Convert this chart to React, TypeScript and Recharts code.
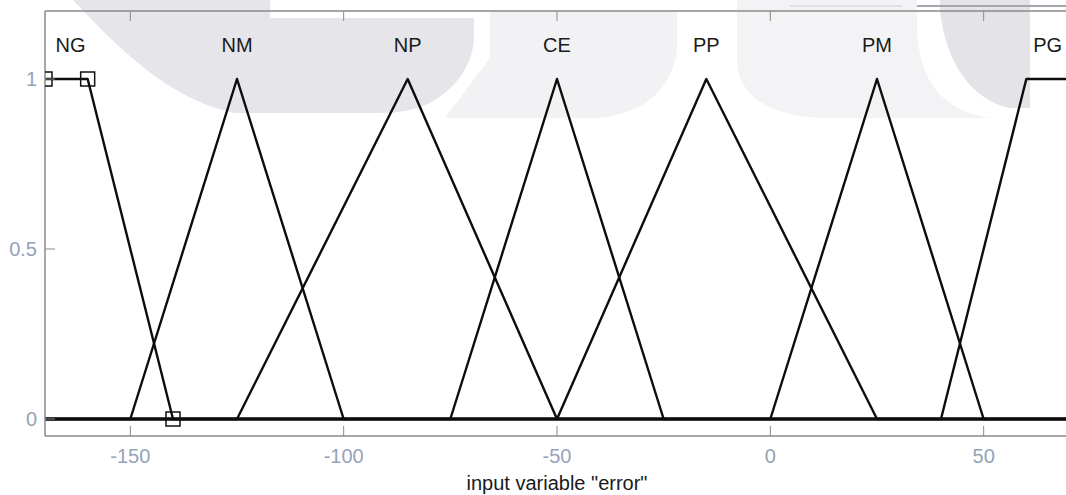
import { LineChart, Line, XAxis, YAxis, ReferenceDot } from "recharts";

// ---- data ----
const X_DOMAIN: [number, number] = [-170, 70];
const Y_DOMAIN: [number, number] = [-0.05, 1.2];
const X_TICKS = [-150, -100, -50, 0, 50];
const Y_TICKS = [0, 0.5, 1];

const ngPoints = [
  { x: -170, y: 1 },
  { x: -160, y: 1 },
  { x: -140, y: 0 },
  { x: 70, y: 0 },
];
const nmPoints = [
  { x: -170, y: 0 },
  { x: -150, y: 0 },
  { x: -125, y: 1 },
  { x: -100, y: 0 },
  { x: 70, y: 0 },
];
const npPoints = [
  { x: -170, y: 0 },
  { x: -125, y: 0 },
  { x: -85, y: 1 },
  { x: -50, y: 0 },
  { x: 70, y: 0 },
];
const cePoints = [
  { x: -170, y: 0 },
  { x: -75, y: 0 },
  { x: -50, y: 1 },
  { x: -25, y: 0 },
  { x: 70, y: 0 },
];
const ppPoints = [
  { x: -170, y: 0 },
  { x: -50, y: 0 },
  { x: -15, y: 1 },
  { x: 25, y: 0 },
  { x: 70, y: 0 },
];
const pmPoints = [
  { x: -170, y: 0 },
  { x: 0, y: 0 },
  { x: 25, y: 1 },
  { x: 50, y: 0 },
  { x: 70, y: 0 },
];
const pgPoints = [
  { x: -170, y: 0 },
  { x: 40, y: 0 },
  { x: 60, y: 1 },
  { x: 70, y: 1 },
];

const mfSeries = [ngPoints, nmPoints, npPoints, cePoints, ppPoints, pmPoints, pgPoints];
const mfNames = ["NG", "NM", "NP", "CE", "PP", "PM", "PG"];
const mfLabelX = [-164, -125, -85, -50, -15, 25, 65];
const MF_LABEL_Y = 1.1;

const FONT = "'Liberation Sans', Arial, sans-serif";
const TICK_COLOR = "#95a3b8";
const AXIS_COLOR = "#8a8a8a";

// bottom axis: inward tick + label below
const BottomTick = (props: any) => {
  const { x, y, payload } = props;
  return (
    <g>
      <line x1={x} y1={y} x2={x} y2={y - 10} stroke={AXIS_COLOR} strokeWidth={1} />
      <text x={x} y={y + 27} textAnchor="middle" fill={TICK_COLOR} fontSize={20} fontFamily={FONT}>
        {payload.value}
      </text>
    </g>
  );
};

const TopTick = (props: any) => {
  const { x, y } = props;
  return <line x1={x} y1={y} x2={x} y2={y + 10} stroke={AXIS_COLOR} strokeWidth={1} />;
};

const LeftTick = (props: any) => {
  const { x, y, payload } = props;
  return (
    <g>
      <line x1={x} y1={y} x2={x + 10} y2={y} stroke={AXIS_COLOR} strokeWidth={1} />
      <text x={x - 8} y={y + 7} textAnchor="end" fill={TICK_COLOR} fontSize={20} fontFamily={FONT}>
        {payload.value}
      </text>
    </g>
  );
};

// open squares on the selected (NG) function's parameters
const SquareDot = (props: any) => {
  const { cx, cy, index } = props;
  if (index > 2) return <g key={`sq-${index}`} />;
  return (
    <rect
      key={`sq-${index}`}
      x={cx - 7}
      y={cy - 7}
      width={14}
      height={14}
      fill="none"
      stroke="#111"
      strokeWidth={1.5}
    />
  );
};

// faint watermark behind the plot
function Watermark() {
  return (
    <svg width={1066} height={495} style={{ position: "absolute", left: 0, top: 0 }}>
      <path
        d="M 490 11 L 677 11 L 677 50 C 672 90 645 112 600 118 L 445 118 L 490 58 Z"
        fill="#f2f2f5"
      />
      <path
        d="M 73 0 L 270 0 L 270 18 L 474 18 L 474 40 Q 470 80 430 103 Q 410 113 380 113 L 235 113 C 170 100 120 50 73 0 Z"
        fill="#e5e5ea"
      />
      <path
        d="M 737 0 L 917 0 L 917 30 C 920 80 940 110 990 118 L 820 118 C 770 116 737 95 737 60 Z"
        fill="#f3f3f6"
      />
      <path d="M 940 0 L 1030 0 L 1030 108 L 1010 108 C 970 100 945 60 940 10 Z" fill="#e3e3e8" />
      <line x1={790} y1={6} x2={902} y2={6} stroke="#e0e0e3" strokeWidth={2} />
      <line x1={917} y1={6} x2={1066} y2={6} stroke="#a4a7ae" strokeWidth={2} />
    </svg>
  );
}

export default function App() {
  return (
    <div
      style={{
        position: "absolute",
        left: 0,
        top: 0,
        width: 1066,
        height: 495,
        overflow: "hidden",
        background: "#fff",
      }}
    >
      <Watermark />
      <div style={{ position: "absolute", left: 0, top: 0 }}>
        <LineChart width={1080} height={495} margin={{ top: 1, right: 11, bottom: 19, left: 5 }}>
          <XAxis
            xAxisId="top"
            orientation="top"
            type="number"
            dataKey="x"
            domain={X_DOMAIN}
            ticks={X_TICKS}
            height={10}
            allowDataOverflow
            axisLine={{ stroke: AXIS_COLOR, strokeWidth: 1.5 }}
            tickLine={false}
            tickSize={0}
            tickMargin={0}
            tick={<TopTick />}
          />
          <XAxis
            type="number"
            dataKey="x"
            domain={X_DOMAIN}
            ticks={X_TICKS}
            height={40}
            allowDataOverflow
            axisLine={{ stroke: AXIS_COLOR, strokeWidth: 1.5 }}
            tickLine={false}
            tickSize={0}
            tickMargin={0}
            tick={<BottomTick />}
            label={{
              value: 'input variable "error"',
              position: "insideBottom",
              offset: -14,
              fill: "#1a1a1a",
              fontSize: 20,
              fontFamily: FONT,
            }}
          />
          <YAxis
            type="number"
            domain={Y_DOMAIN}
            ticks={Y_TICKS}
            width={40}
            allowDataOverflow
            axisLine={{ stroke: AXIS_COLOR, strokeWidth: 1.5 }}
            tickLine={false}
            tickSize={0}
            tickMargin={0}
            tick={<LeftTick />}
          />
          {mfSeries.map((pts, i) => (
            <Line
              key={mfNames[i]}
              data={pts}
              dataKey="y"
              type="linear"
              stroke="#0d0d0d"
              strokeWidth={2.4}
              strokeLinejoin="round"
              dot={i === 0 ? SquareDot : false}
              activeDot={false}
              isAnimationActive={false}
            />
          ))}
          {mfNames.map((name, i) => (
            <ReferenceDot
              key={`lbl-${name}`}
              x={mfLabelX[i]}
              y={MF_LABEL_Y}
              r={0}
              fill="none"
              stroke="none"
              label={{
                value: name,
                position: "center",
                fill: "#1a1a1a",
                fontSize: 20,
                fontFamily: FONT,
              }}
            />
          ))}
        </LineChart>
      </div>
    </div>
  );
}
